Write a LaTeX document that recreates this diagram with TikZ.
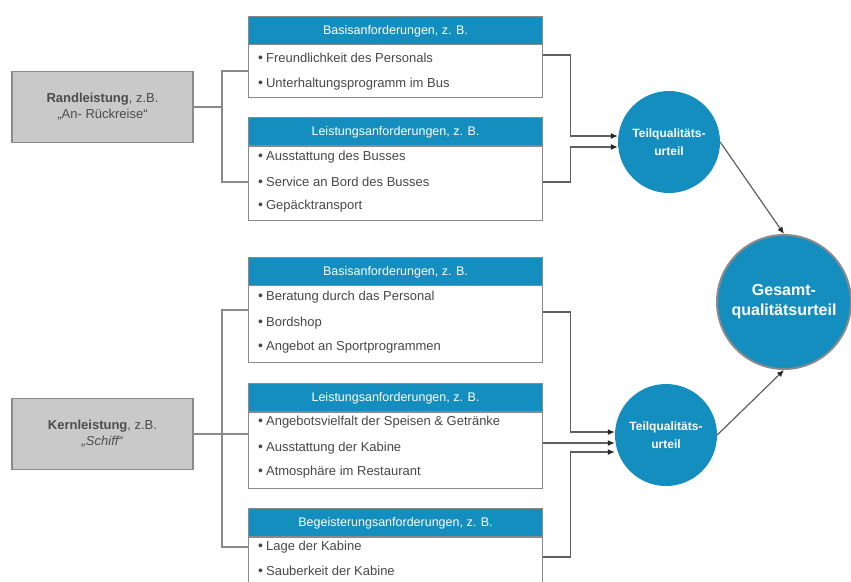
\documentclass[tikz,border=0pt]{standalone}
\usepackage{fontspec}
\setmainfont{Liberation Sans}
\usetikzlibrary{arrows.meta}

\definecolor{hdrblue}{RGB}{20,142,190}
\definecolor{boxgray}{RGB}{201,201,201}
\definecolor{edgegray}{RGB}{138,138,138}
\definecolor{linegray}{RGB}{95,95,95}
\definecolor{itemtext}{RGB}{72,72,72}

\newcommand\bul{{\fontsize{14}{14}\selectfont •}\hspace{3pt}}

\begin{document}
\begin{tikzpicture}[x=1pt,y=-1pt,
  hdr/.style={draw=edgegray, line width=1.1pt, fill=hdrblue, text=white,
    minimum width=294pt, minimum height=28pt, anchor=north west, inner sep=0pt,
    text height=9pt, text depth=2pt,
    font=\fontsize{12.5}{14}\selectfont},
  body/.style={draw=edgegray, line width=1.1pt, fill=white,
    minimum width=294pt, anchor=north west, inner sep=0pt},
  item/.style={anchor=west, text=itemtext, inner sep=0pt,
    font=\fontsize{13}{15}\selectfont},
  gbox/.style={draw=edgegray, line width=1.4pt, fill=boxgray, text=black!70,
    minimum width=181pt, minimum height=71pt, align=center, inner sep=0pt,
    font=\fontsize{13}{16}\selectfont},
  teil/.style={circle, fill=hdrblue, text=white, minimum size=102pt, inner sep=0pt,
    align=center, font=\bfseries\fontsize{12}{18}\selectfont},
  gesamt/.style={circle, fill=hdrblue, draw=edgegray, line width=2pt, text=white,
    minimum size=134pt, inner sep=0pt, align=center,
    font=\bfseries\fontsize{16}{20}\selectfont},
  conn/.style={draw=edgegray, line width=1.2pt},
  arr/.style={draw=linegray, line width=1.2pt,
    -{Latex[length=7pt,width=6pt,color=black!85]}},
]
\useasboundingbox (0,0) rectangle (851,581);
\clip (0,0) rectangle (851,581);

% left-hand service areas
\node[gbox] (rand) at (102.5,107) {\textbf{Randleistung}, z.B.\\„An- Rückreise“};
\node[gbox] (kern) at (102.5,434) {\textbf{Kernleistung}, z.B.\\\textit{„Schiff“}};

% requirement boxes: header + body
\node[body, minimum height=53pt] (b1body) at (248,44) {};
\node[hdr] (b1) at (248,16) {Basisanforderungen, z. B.};
\node[item] (i11) at (258,58) {\bul Freundlichkeit des Personals};
\node[item] (i12) at (258,84) {\bul Unterhaltungsprogramm im Bus};

\node[body, minimum height=74pt] (b2body) at (248,146) {};
\node[hdr] (b2) at (248,117) {Leistungsanforderungen, z. B.};
\node[item] (i21) at (258,157) {\bul Ausstattung des Busses};
\node[item] (i22) at (258,182) {\bul Service an Bord des Busses};
\node[item] (i23) at (258,206) {\bul Gepäcktransport};

\node[body, minimum height=77pt] (b3body) at (248,285) {};
\node[hdr] (b3) at (248,257) {Basisanforderungen, z. B.};
\node[item] (i31) at (258,297) {\bul Beratung durch das Personal};
\node[item] (i32) at (258,323) {\bul Bordshop};
\node[item] (i33) at (258,347) {\bul Angebot an Sportprogrammen};

\node[body, minimum height=76pt] (b4body) at (248,412) {};
\node[hdr] (b4) at (248,383) {Leistungsanforderungen, z. B.};
\node[item] (i41) at (258,422) {\bul Angebotsvielfalt der Speisen \& Getränke};
\node[item] (i42) at (258,448) {\bul Ausstattung der Kabine};
\node[item] (i43) at (258,472) {\bul Atmosphäre im Restaurant};

\node[body, minimum height=80pt] (b5body) at (248,537) {};
\node[hdr] (b5) at (248,508) {Begeisterungsanforderungen, z. B.};
\node[item] (i51) at (258,547) {\bul Lage der Kabine};
\node[item] (i52) at (258,571) {\bul Sauberkeit der Kabine};

% quality judgements
\node[teil] (teil1) at (669,142) {Teilqualitäts-\\urteil};
\node[teil] (teil2) at (666,435) {Teilqualitäts-\\urteil};
\node[gesamt] (ges) at (784,302) {Gesamt-\\qualitätsurteil};

% branching lines on the left
\coordinate (s) at (222,0);
\draw[conn] (rand.east) -- (rand.east -| s);
\draw[conn] (b1body.west) -- (b1body.west -| s) -- (s |- i22) -- (b2body.west |- i22);
\draw[conn] (kern.east) -- (b4body.west |- kern.east);
\draw[conn] (b3body.west |- 0,310) -- (s |- 0,310) -- (s |- i51) -- (b5body.west |- i51);

% collecting lines on the right
\draw[arr] (b1body.east |- 0,55) -- ++(27,0) |- (teil1.west |- 0,136);
\draw[arr] (b2body.east |- i22) -- ++(27,0) |- (teil1.west |- 0,147);
\draw[arr] (b3body.east |- 0,312) -- ++(27,0) |- (teil2.west |- 0,432);
\draw[arr] (b4body.east |- 0,443) -- (teil2.west |- 0,443);
\draw[arr] (b5body.east |- 0,557) -- ++(27,0) |- (teil2.west |- 0,452);

% into the overall judgement
\draw[arr] (teil1.east) -- (ges.north);
\draw[arr] (teil2.east) -- (ges.south);
\end{tikzpicture}
\end{document}
